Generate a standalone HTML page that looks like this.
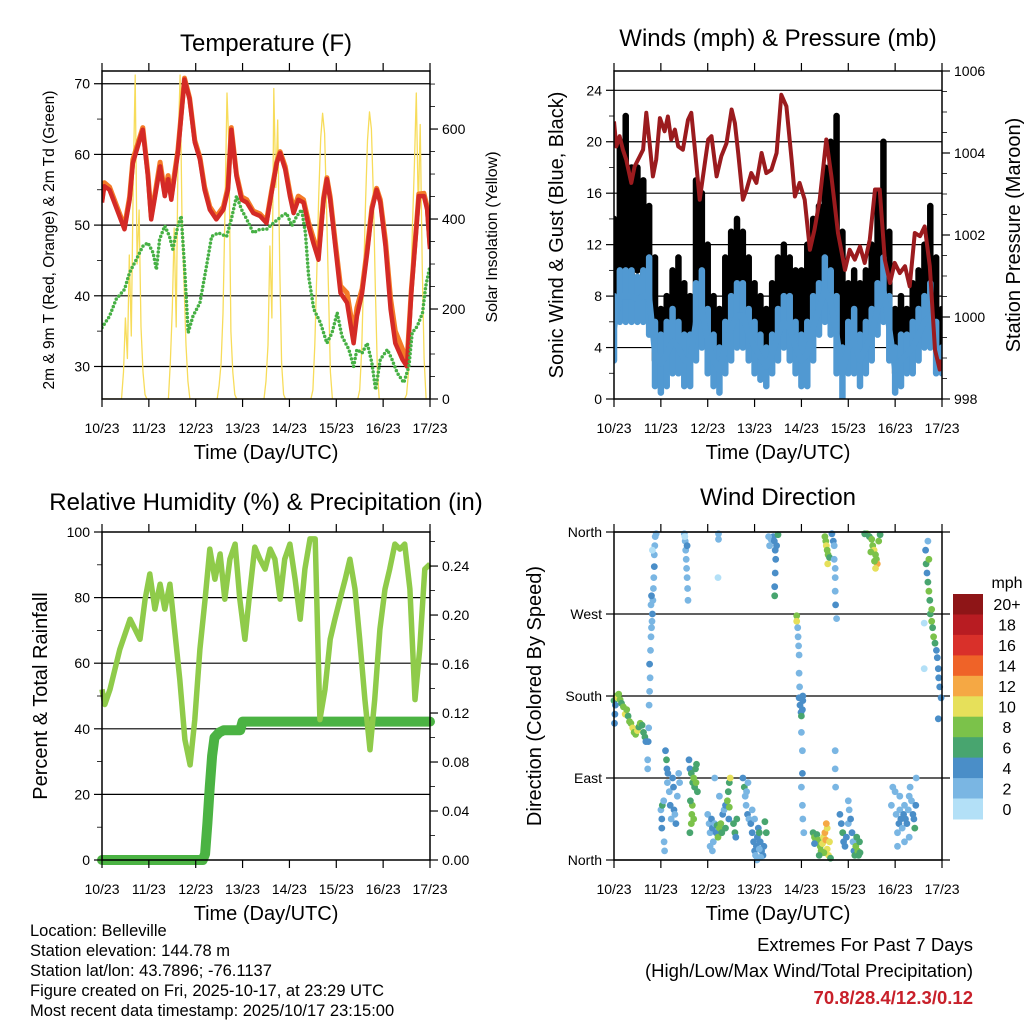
<!DOCTYPE html>
<html><head><meta charset="utf-8"><title>Belleville station meteogram</title>
<style>
html,body{margin:0;padding:0;background:#fff;}
svg{display:block;font-family:"Liberation Sans",Arial,sans-serif;}
</style></head>
<body>
<svg id="chart" width="1024" height="1024" viewBox="0 0 1024 1024" xmlns="http://www.w3.org/2000/svg"></svg>
<script>
// ---------- DATA ----------
const dayLabels = ["10/23","11/23","12/23","13/23","14/23","15/23","16/23","17/23"];
// Temperature 2m (red)
const tDays = [0,0.05,0.16,0.48,0.59,0.66,0.87,0.98,1.05,1.12,1.24,1.34,1.41,1.48,1.55,1.62,1.76,1.87,1.98,2.09,2.19,2.3,2.44,2.59,2.69,2.76,2.87,2.98,3.09,3.23,3.37,3.51,3.62,3.73,3.8,3.91,4.01,4.09,4.19,4.3,4.41,4.51,4.62,4.73,4.8,4.87,4.98,5.09,5.23,5.37,5.44,5.55,5.66,5.76,5.86,5.94,6.05,6.16,6.26,6.41,6.51,6.6,6.69,6.76,6.87,6.94,7.0];
const t2m = [53.2,55.5,55.0,49.4,53.6,58.8,63.5,56.9,50.8,53.6,58.3,54.1,56.5,53.6,56.9,60.2,70.6,67.8,61.7,59.3,55.0,52.2,50.8,52.2,55.0,63.5,56.9,53.6,53.2,51.7,51.3,50.3,54.6,58.8,60.2,57.9,54.1,51.7,53.6,53.2,49.9,47.5,45.1,53.6,56.5,53.6,47.0,40.4,39.0,33.3,37.1,40.4,46.1,52.2,55.0,53.2,47.0,38.1,33.3,31.0,30.0,40.4,48.0,54.1,54.1,52.2,46.6];
const t9m = [53.6,56.0,55.4,49.8,54.0,59.3,63.8,57.3,51.2,54.0,58.9,54.5,57.0,54.0,57.4,60.6,70.8,68.0,62.0,59.6,55.4,52.6,51.2,52.6,55.4,63.8,57.2,54.0,53.6,52.0,51.6,50.6,54.9,59.0,60.4,58.3,54.6,52.2,54.1,53.6,50.4,48.2,46.0,53.9,56.7,54.0,47.6,41.4,40.4,34.8,38.3,41.0,46.7,52.5,55.2,53.6,47.8,39.6,35.0,32.5,30.8,40.8,48.3,54.4,54.5,52.6,47.0];
// Dewpoint (green)
const tdDays = [0,0.16,0.3,0.48,0.59,0.73,0.87,0.98,1.09,1.16,1.23,1.34,1.44,1.51,1.62,1.69,1.76,1.84,1.94,2.09,2.23,2.34,2.48,2.66,2.76,2.87,2.98,3.09,3.23,3.37,3.51,3.66,3.84,3.94,4.05,4.16,4.26,4.34,4.41,4.52,4.66,4.8,4.91,5.02,5.12,5.27,5.37,5.44,5.55,5.66,5.76,5.84,5.94,6.09,6.19,6.3,6.44,6.55,6.62,6.73,6.84,6.91,7.0];
const td2m = [35.5,37.1,39.5,40.9,43.3,45.1,47.0,47.5,46.1,43.7,48.0,49.9,48.4,46.6,49.9,51.3,44.2,34.8,37.1,39.0,44.2,48.4,48.9,48.4,50.8,54.1,52.2,50.8,48.9,49.4,49.4,50.3,51.3,51.7,49.9,51.3,52.2,48.9,42.8,38.1,36.2,33.3,34.8,37.6,34.3,32.4,30.0,32.4,31.9,33.3,30.5,26.7,31.0,32.4,31.0,29.1,27.7,30.0,34.8,35.7,37.6,41.4,44.2];
// Solar insolation, hourly (W/m2), days 0..6
const solarD0 = [0,0,0,0,0,0,0,0,0,0,0,60,180,90,320,140,480,720,300,420,160,60,10,0];
const solarD1 = [0,0,0,0,0,0,0,0,0,0,0,80,200,380,160,560,720,400,260,120,40,0,0,0];
const solarD2 = [0,0,0,0,0,0,0,0,0,0,0,0,30,80,190,420,680,560,150,60,10,0,0,0];
const solarD3 = [0,0,0,0,0,0,0,0,0,0,0,0,40,120,340,180,690,470,620,300,80,10,0,0];
const solarD4 = [0,0,0,0,0,0,0,0,0,0,0,0,20,120,280,450,580,635,590,430,240,60,0,0];
const solarD5 = [0,0,0,0,0,0,0,0,0,0,0,0,20,110,270,440,575,638,600,450,250,70,0,0];
const solarD6 = [0,0,0,0,0,0,0,0,0,0,0,0,10,60,200,380,520,680,420,610,300,90,0,0];
// Wind (mph) per 3 h
const windDays = [0,0.125,0.25,0.375,0.5,0.625,0.75,0.875,1,1.125,1.25,1.375,1.5,1.625,1.75,1.875,2,2.125,2.25,2.375,2.5,2.625,2.75,2.875,3,3.125,3.25,3.375,3.5,3.625,3.75,3.875,4,4.125,4.25,4.375,4.5,4.625,4.75,4.875,5,5.125,5.25,5.375,5.5,5.625,5.75,5.875,6,6.125,6.25,6.375,6.5,6.625,6.75,6.875,7];
const gustMin = [6,9,10,9,10,9,8,3, 3,4,5,5,4,4,6,7, 4,3,3,5,7,8,7,5, 4,3,3,4,6,7,6,5, 4,5,6,8,9,10,8,4, 4,5,4,5,6,9,10,6, 2,3,3,4,5,6,7,4,3];
const gustMax = [14,20,22,18,18,17,15,11, 7,8,10,11,9,8,17,16, 12,8,7,11,13,14,13,11, 9,8,7,9,11,12,11,10, 10,12,14,15,18,20,22,13, 9,10,9,10,12,16,20,13, 7,8,7,9,10,12,15,11,7];
const windMin = [3,6,6,6,6,6,5,1, 0.5,1,2,2,1,1,3,4, 2,1,0.5,2,3,4,4,3, 2,1.5,1,2,3,4,3,2, 1,1,3,5,6,5,2,0, 2,2,1,2,3,5,6,3, 0.5,1,2,2,3,4,4,2,2];
const windMax = [8,10,10,10,9.5,10,11,6, 5,6,7,6,5,5,9,10, 7,5,4,6,8,9,9,7, 6,5,4,5,7,8,8,6, 5,6,8,9,11,10,8,4, 6,7,5,6,7,9,11,8, 4,5,5,6,7,8,9,6,4];
// Pressure (mb)
const pDays = [0,0.05,0.12,0.19,0.26,0.37,0.44,0.55,0.62,0.69,0.76,0.83,0.9,0.98,1.08,1.15,1.22,1.3,1.37,1.47,1.58,1.65,1.72,1.83,1.94,2.01,2.08,2.19,2.29,2.4,2.51,2.58,2.65,2.75,2.83,2.93,3.04,3.15,3.25,3.36,3.47,3.57,3.68,3.79,3.86,3.96,4.07,4.18,4.28,4.39,4.53,4.64,4.78,4.93,5.03,5.14,5.25,5.35,5.46,5.57,5.67,5.78,5.89,5.99,6.1,6.21,6.31,6.42,6.53,6.63,6.74,6.85,6.95,6.99];
const pres = [1004.77,1004.16,1004.41,1004.08,1003.84,1003.27,1003.67,1003.92,1004.08,1004.98,1004.24,1003.43,1003.84,1004.85,1004.53,1004.89,1004.33,1004.57,1004.16,1004.08,1004.81,1004.98,1004.16,1002.86,1003.76,1004.33,1004.41,1003.43,1003.92,1004.24,1005.06,1004.73,1004.0,1002.86,1003.11,1003.51,1003.27,1004.0,1003.51,1003.59,1004.0,1005.42,1005.14,1003.84,1002.94,1003.27,1002.86,1001.64,1002.13,1002.86,1004.33,1003.43,1002.05,1001.15,1001.64,1001.40,1001.72,1001.32,1001.89,1003.11,1003.11,1001.40,1000.83,1001.32,1001.07,1001.24,1000.75,1002.05,1001.97,1002.21,1001.24,999.20,998.72,998.96];
// Relative humidity (%)
const rhDays = [0,0.06,0.17,0.38,0.6,0.81,0.92,1.02,1.13,1.24,1.34,1.45,1.56,1.66,1.77,1.88,1.98,2.09,2.2,2.3,2.41,2.52,2.62,2.73,2.84,2.94,3.05,3.16,3.26,3.37,3.48,3.59,3.69,3.8,3.9,4.01,4.12,4.23,4.33,4.44,4.55,4.65,4.76,4.87,4.97,5.08,5.19,5.29,5.4,5.5,5.61,5.72,5.82,5.93,6.04,6.14,6.25,6.36,6.46,6.57,6.68,6.78,6.89,7.0];
const rh = [52,47.4,52,64.2,73.4,67.3,79.5,87.2,76.5,84.1,76.5,84.1,68.8,55,36.7,29,42.8,64.2,79.5,94.8,85.6,93.3,79.5,91.7,96.3,79.5,67.3,82.6,95.4,91.7,88.7,94.8,91.7,79.5,91.7,96.3,85.6,73.4,88.7,97.9,97.9,42.8,52,67.3,73.4,79.5,85.6,91.7,82.6,67.3,48.9,33.6,48.9,70.3,82.6,88.7,96.3,94.8,96.3,82.6,48.9,64.2,88.7,90.2];
// Precipitation total (in)
const prDays = [0,2.15,2.2,2.25,2.3,2.35,2.4,2.5,2.6,2.95,3.0,7.0];
const precip = [0,0,0.005,0.03,0.06,0.085,0.1,0.104,0.106,0.106,0.113,0.113];
// Wind direction scatter: day, direction (deg), speed (mph)
const dirDays = [0,0.03,0.05,0.08,0.1,0.13,0.16,0.2,0.24,0.27,0.3,0.33,0.36,0.4,0.43,0.46,0.5,0.53,0.56,0.6,0.63,0.66,0.68,0.02,0.01,
0.72,0.72,0.73,0.74,0.75,0.76,0.77,0.76,0.78,0.79,0.8,0.81,0.82,0.83,0.84,0.85,0.86,0.86,0.87,0.88,0.9,0.82,0.79,0.8,
1.0,1.02,1.02,1.03,1.06,1.1,1.12,1.13,1.15,1.14,1.18,1.2,1.22,1.25,1.27,1.28,1.3,1.32,1.07,1.08,1.35,1.38,1.4,
1.5,1.52,1.53,1.54,1.55,1.56,1.57,1.58,1.56,1.51,
1.6,1.62,1.65,1.68,1.7,1.72,1.67,1.66,1.7,1.65,1.63,1.74,1.76,1.78,1.75,1.62,
2.0,2.03,2.05,2.08,2.1,2.12,2.15,2.18,2.2,2.22,2.25,2.28,2.3,2.32,2.35,2.38,2.42,2.44,2.46,2.48,2.46,2.45,2.38,2.1,2.05,2.15,2.25,2.23,2.23,2.22,
2.55,2.58,2.6,2.62,2.75,2.78,2.8,2.82,2.85,2.88,2.83,2.86,
2.92,2.95,2.98,3.0,3.02,3.04,3.06,3.08,3.1,3.12,3.15,3.18,3.2,3.22,3.25,2.95,3.0,3.05,3.13,3.1,
3.35,3.4,3.42,3.44,3.45,3.44,3.43,3.43,3.3,3.32,3.5,3.47,
3.9,3.9,3.92,3.93,3.94,3.95,3.95,3.96,3.95,3.97,3.99,4.0,4.02,4.03,4.0,4.02,4.02,4.0,4.02,4.03,4.05,4.03,
4.25,4.28,4.3,4.33,4.36,4.4,4.42,4.45,4.47,4.5,4.52,4.55,4.58,4.6,4.55,4.53,4.48,4.38,4.62,4.28,
4.5,4.52,4.53,4.55,4.57,4.56,4.6,4.65,4.68,4.7,4.72,4.72,4.73,4.75,4.72,4.7,4.72,4.72,4.73,
4.82,4.85,4.88,4.9,4.93,4.96,5.0,5.02,5.05,5.08,5.1,5.12,5.14,5.16,5.18,5.2,5.22,5.25,5.24,5.0,
5.4,5.45,5.5,5.52,5.55,5.58,5.6,5.62,5.58,5.56,5.65,5.68,5.35,5.48,
5.92,5.95,6.0,6.02,6.05,6.08,6.1,6.12,6.15,6.18,6.2,6.22,6.25,6.28,6.3,6.32,6.35,6.38,6.4,6.42,6.44,6.45,6.05,6.2,6.3,6.1,
6.65,6.66,6.68,6.7,6.72,6.74,6.75,6.78,6.8,6.82,6.85,6.88,6.9,6.92,6.93,6.95,6.98,6.72,6.7,6.78,6.92,6.62,6.62];
const dirDeg = [175,170,180,178,182,176,172,168,160,165,158,152,150,145,140,138,142,146,150,148,140,135,130,160,150,
100,110,130,145,170,185,200,215,230,245,255,262,270,285,298,310,322,335,345,355,358,340,280,290,
55,45,35,60,65,120,110,100,95,85,75,60,45,90,80,55,50,40,20,10,70,95,85,
358,350,340,330,320,310,298,285,345,355,
110,100,95,85,90,80,60,50,45,40,65,100,105,75,85,30,
50,40,30,45,35,20,40,30,38,25,35,40,30,50,55,60,65,75,85,90,58,45,35,10,15,90,70,358,352,310,
40,30,25,45,90,80,70,60,50,45,75,85,
40,30,20,10,5,15,25,35,30,20,10,5,15,42,30,55,45,0,3,12,
352,355,350,340,330,315,300,290,355,345,357,345,
268,262,255,245,235,225,205,190,178,170,162,158,165,175,140,120,95,80,60,45,30,180,
30,25,20,28,22,15,10,18,25,30,22,12,5,20,35,40,8,5,2,18,
355,350,345,340,335,325,332,358,350,330,310,295,280,265,320,345,120,100,80,
50,40,30,20,15,25,40,55,45,30,20,10,5,15,25,10,5,8,20,65,
358,355,352,345,340,335,330,325,320,328,350,357,358,338,
60,80,75,50,30,40,55,45,35,50,60,45,40,55,70,80,65,50,45,35,60,90,15,20,25,70,
340,325,315,305,295,285,270,262,255,245,238,230,222,210,200,190,178,330,350,275,155,260,210];
const dirSpd = [6,4,8,10,9,8,7,8,10,8,7,9,8,10,8,9,10,7,8,6,7,6,5,4,4,
3,2,4,2,3,2,3,4,2,3,2,3,4,2,3,2,4,3,2,3,2,1,3,4,
3,4,4,6,2,4,6,4,4,3,3,4,3,4,4,4,3,4,2,2,3,3,3,
3,2,2,3,2,3,2,2,4,1,
4,4,7,7,8,6,8,9,8,8,7,6,7,6,8,6,
2,2,3,4,4,2,3,4,6,8,8,8,6,4,2,4,8,7,6,10,8,4,6,2,2,2,2,2,2,1,
6,6,4,6,4,6,2,2,4,2,2,2,
4,4,4,4,3,4,4,4,6,4,4,4,4,6,6,2,3,2,3,2,
2,4,4,4,4,4,4,6,2,2,6,4,
8,10,2,2,2,2,2,2,4,4,4,6,4,4,2,2,4,2,2,2,2,4,
6,8,8,6,8,8,8,10,10,12,12,10,10,10,10,12,8,6,6,4,
8,8,10,8,8,10,6,4,4,3,3,3,4,3,3,2,2,2,2,
4,4,6,4,4,4,2,2,4,4,2,4,6,8,6,8,6,6,6,2,
8,6,8,8,10,8,8,12,10,8,8,6,6,8,
2,2,2,2,2,4,3,4,2,4,2,4,4,3,2,3,2,4,4,6,4,2,2,2,2,2,
4,6,4,6,8,6,6,8,6,8,6,4,4,4,4,4,4,8,2,8,4,1,1];
const cbLabels = ["20+","18","16","14","12","10","8","6","4","2","0"];
const cbColors = ["#8e1517","#b81c22","#d9302a","#ef6328","#f5a844","#e6e05a","#7bc24a","#48a56f","#4a8ec8","#7ab6e3","#b3e0f7"];

// ---------- DRAWING ----------
const NS = "http://www.w3.org/2000/svg";
const svg = document.getElementById("chart");
function mk(tag, attrs, parent){
  const e = document.createElementNS(NS, tag);
  for (const k in attrs) e.setAttribute(k, attrs[k]);
  (parent||svg).appendChild(e);
  return e;
}
function txt(s, x, y, size, anchor, parent, extra){
  const e = mk("text", Object.assign({x:x, y:y, "font-size":size, "text-anchor":anchor||"middle", fill:"#000"}, extra||{}), parent);
  e.textContent = s;
  return e;
}
const W = 328, H = 328;
function xsc(x0){ return d => x0 + d * W / 7; }
function ysc(y0, lo, hi){ return v => y0 + H - (v - lo) / (hi - lo) * H; }

function frame(g, x0, y0){
  const f = mk("rect", {x:x0, y:y0, width:W, height:H, fill:"none", stroke:"#000", "stroke-width":1.5}, g);
  
  
}
function xAxis(g, x0, y0){
  const xs = xsc(x0);
  for (let i = 0; i < dayLabels.length; i++){
    const x = xs(i);
    mk("line", {x1:x, x2:x, y1:y0+H, y2:y0+H+8, stroke:"#000", "stroke-width":1.2}, g);
    mk("line", {x1:x, x2:x, y1:y0-8, y2:y0, stroke:"#000", "stroke-width":1.2}, g);
    const t = txt(dayLabels[i], x, y0+H+34, 14, "middle", g);
    
    
  }
  const tt = txt("Time (Day/UTC)", x0+W/2, y0+H+60, 20, "middle", g);
  
  
}
function yTicks(g, x0, y0, ys, vals, labels, side, major, minorVals){
  for (let i = 0; i < vals.length; i++){
    const y = ys(vals[i]);
    if (y < y0-0.5 || y > y0+H+0.5) continue;
    const xx = side === "left" ? x0 : x0 + W;
    const dx = side === "left" ? -8 : 8;
    mk("line", {x1:xx, x2:xx+dx, y1:y, y2:y, stroke:"#000", "stroke-width":1.2}, g);
    const t = txt(labels[i], side === "left" ? x0-12 : x0+W+12, y+5, 14, side === "left" ? "end" : "start", g);
    
    
  }
  (minorVals||[]).forEach(v => {
    const y = ys(v);
    if (y < y0 || y > y0+H) return;
    const xx = side === "left" ? x0 : x0 + W;
    const dx = side === "left" ? -5 : 5;
    mk("line", {x1:xx, x2:xx+dx, y1:y, y2:y, stroke:"#000", "stroke-width":0.8}, g);
  });
}
function grid(g, x0, ys, vals, ext){
  vals.forEach(v => {
    const y = ys(v);
    const l = mk("line", {x1:x0, x2:x0+W+(ext||0), y1:y, y2:y, stroke:"#000", "stroke-width":1.2}, g);
    
    
  });
}
function pathFrom(xsArr, ysArr, xs, ys){
  let d = "";
  for (let i = 0; i < xsArr.length; i++) d += (i ? "L" : "M") + xs(xsArr[i]).toFixed(1) + "," + ys(ysArr[i]).toFixed(1);
  return d;
}
function rotLabel(s, x, y, size, g){
  return txt(s, x, y, size, "middle", g, {transform:"rotate(-90 " + x + " " + y + ")"});
}

// ===== Panel 1: Temperature =====
(function(){
  const x0 = 102, y0 = 71;
  const g = mk("g", {});  
  const xs = xsc(x0), ys = ysc(y0, 25.4, 71.8), ysR = ysc(y0, 0, 729);
  const clip = mk("clipPath", {id:"c1"}, g); mk("rect", {x:x0, y:y0, width:W, height:H}, clip);
  const pg = mk("g", {"clip-path":"url(#c1)"}, g);
  grid(pg, x0, ys, [30,40,50,60,70]);
  const solarDays = [solarD0, solarD1, solarD2, solarD3, solarD4, solarD5, solarD6];
  const sd = [], sv = [];
  solarDays.forEach((arr, di) => arr.forEach((v, h) => { sd.push(di + h/24); sv.push(v); }));
  sd.push(7); sv.push(0);
  const sp = mk("path", {d:pathFrom(sd, sv, xs, ysR), fill:"none", stroke:"#f7dc5a", "stroke-width":1.3, "stroke-linejoin":"round"}, pg);
   
  const o = mk("path", {d:pathFrom(tDays, t9m, xs, ys), fill:"none", stroke:"#f47b27", "stroke-width":5, "stroke-linejoin":"round"}, pg);
   
  const r = mk("path", {d:pathFrom(tDays, t2m, xs, ys), fill:"none", stroke:"#d42a26", "stroke-width":4.5, "stroke-linejoin":"round"}, pg);
   
  const gr = mk("path", {d:pathFrom(tdDays, td2m, xs, ys), fill:"none", stroke:"#46b044", "stroke-width":3.5, "stroke-dasharray":"0 4", "stroke-linecap":"round"}, pg);
   
  frame(g, x0, y0);
  xAxis(g, x0, y0);
  yTicks(g, x0, y0, ys, [30,40,50,60,70], ["30","40","50","60","70"], "left", true, [35,45,55,65]);
  yTicks(g, x0, y0, ysR, [0,200,400,600], ["0","200","400","600"], "right", true, [50,100,150,250,300,350,450,500,550,650,700]);
  const ti = txt("Temperature (F)", x0+W/2, 51, 24, "middle", g);  
  const yl = rotLabel("2m & 9m T (Red, Orange) & 2m Td (Green)", 54, 240, 15.5, g);  
  const yr = rotLabel("Solar Insolation (Yellow)", 497, 237, 16, g);  
})();

// ===== Panel 2: Winds & Pressure =====
(function(){
  const x0 = 614, y0 = 71;
  const g = mk("g", {});  
  const xs = xsc(x0), ys = ysc(y0, 0, 25.5), ysR = ysc(y0, 998, 1006);
  const clip = mk("clipPath", {id:"c2"}, g); mk("rect", {x:x0, y:y0, width:W, height:H}, clip);
  const pg = mk("g", {"clip-path":"url(#c2)"}, g);
  grid(pg, x0, ys, [4,8,12,16,20,24]);
  for (let i = 0; i < windDays.length; i++){
    const x = xs(windDays[i]);
    const b = mk("line", {x1:x, x2:x, y1:ys(gustMin[i]), y2:ys(gustMax[i]), stroke:"#000", "stroke-width":6.5, "stroke-linecap":"round"}, pg);
    
    
  }
  for (let i = 0; i < windDays.length; i++){
    const x = xs(windDays[i]);
    const b = mk("line", {x1:x, x2:x, y1:ys(windMin[i]), y2:ys(windMax[i]), stroke:"#5199d2", "stroke-width":6.5, "stroke-linecap":"round"}, pg);
    
    
  }
  const mids = windMin.map((v, i) => (v + windMax[i]) / 2);
  const bl = mk("path", {d:pathFrom(windDays, mids, xs, ys), fill:"none", stroke:"#5199d2", "stroke-width":6, "stroke-linejoin":"round"}, pg);
   
  const p = mk("path", {d:pathFrom(pDays, pres, xs, ysR), fill:"none", stroke:"#9b1b1e", "stroke-width":4, "stroke-linejoin":"round"}, pg);
   
  frame(g, x0, y0);
  xAxis(g, x0, y0);
  yTicks(g, x0, y0, ys, [0,4,8,12,16,20,24], ["0","4","8","12","16","20","24"], "left", true, [2,6,10,14,18,22]);
  yTicks(g, x0, y0, ysR, [998,1000,1002,1004,1006], ["998","1000","1002","1004","1006"], "right", true, [998.5,999,999.5,1000.5,1001,1001.5,1002.5,1003,1003.5,1004.5,1005,1005.5]);
  const ti = txt("Winds (mph) & Pressure (mb)", x0+W/2, 46, 24, "middle", g);  
  const yl = rotLabel("Sonic Wind & Gust (Blue, Black)", 563, 235, 20, g);  
  const yr = rotLabel("Station Pressure (Maroon)", 1020, 235, 20, g);  
})();

// ===== Panel 3: RH & precip =====
(function(){
  const x0 = 102, y0 = 532;
  const g = mk("g", {});  
  const xs = xsc(x0), ys = ysc(y0, 0, 100), ysR = ysc(y0, 0, 0.2678);
  grid(g, x0, ys, [20,40,60,80]);
  const clip = mk("clipPath", {id:"c3"}, g); mk("rect", {x:x0-6, y:y0, width:W+12, height:H+6}, clip);
  const pg = mk("g", {"clip-path":"url(#c3)"}, g);
  const pr = mk("path", {d:pathFrom(prDays, precip, xs, ysR), fill:"none", stroke:"#4bb343", "stroke-width":10, "stroke-linejoin":"round", "stroke-linecap":"round"}, pg);
   
  const rl = mk("path", {d:pathFrom(rhDays, rh, xs, ys), fill:"none", stroke:"#8fcb4a", "stroke-width":5.5, "stroke-linejoin":"round"}, g);
   
  frame(g, x0, y0);
  xAxis(g, x0, y0);
  yTicks(g, x0, y0, ys, [0,20,40,60,80,100], ["0","20","40","60","80","100"], "left", true, [10,30,50,70,90]);
  yTicks(g, x0, y0, ysR, [0,0.04,0.08,0.12,0.16,0.20,0.24], ["0.00","0.04","0.08","0.12","0.16","0.20","0.24"], "right", true, [0.02,0.06,0.10,0.14,0.18,0.22,0.26]);
  const ti = txt("Relative Humidity (%) & Precipitation (in)", 266, 510, 24, "middle", g);  
  const yl = rotLabel("Percent & Total Rainfall", 47, 696, 20, g);  
})();

// ===== Panel 4: Wind direction =====
(function(){
  const x0 = 614, y0 = 532;
  const g = mk("g", {});  
  const xs = xsc(x0), ys = ysc(y0, 0, 360);
  grid(g, x0, ys, [0,90,180,270,360], 8);
  function col(s){ const idx = Math.min(10, Math.floor(s/2)); return cbColors[10 - idx]; }
  for (let i = 0; i < dirDays.length; i++){
    const c = mk("circle", {cx:xs(dirDays[i]).toFixed(1), cy:ys(dirDeg[i]).toFixed(1), r:3.4, fill:col(dirSpd[i])}, g);
    
    
  }
  frame(g, x0, y0);
  xAxis(g, x0, y0);
  const dl = ["North","East","South","West","North"];
  yTicks(g, x0, y0, ys, [0,90,180,270,360], dl, "left", true, []);
  const ti = txt("Wind Direction", x0+W/2, 505, 24, "middle", g);  
  const yl = rotLabel("Direction (Colored By Speed)", 541, 696, 20, g);  
  const lg = mk("g", {}, g);  
  const cbY0 = 594, bh = (819 - 594) / cbLabels.length;
  for (let i = 0; i < cbLabels.length; i++){
    const r = mk("rect", {x:953, y:(cbY0 + i*bh).toFixed(1), width:30, height:(bh+0.5).toFixed(1), fill:cbColors[i]}, lg);
    
    
    const t = txt(cbLabels[i], 1007, cbY0 + i*bh + bh/2 + 6, 16, "middle", lg);
    
    
  }
  const u = txt("mph", 1007, 588, 16, "middle", lg);  
})();
</script>
<div style="position:absolute;left:0;top:0;width:1024px;height:1024px;pointer-events:none;font-family:'Liberation Sans',Arial,sans-serif;">
  <div style="position:absolute;left:30px;top:921px;font-size:16.5px;line-height:20px;color:#000;">
    <div>Location: Belleville</div>
    <div>Station elevation: 144.78 m</div>
    <div>Station lat/lon: 43.7896; -76.1137</div>
    <div>Figure created on Fri, 2025-10-17, at 23:29 UTC</div>
    <div>Most recent data timestamp: 2025/10/17 23:15:00</div>
  </div>
  <div style="position:absolute;right:51px;top:932px;text-align:right;color:#000;font-size:18.5px;line-height:26px;">
    <div>Extremes For Past 7 Days</div>
    <div>(High/Low/Max Wind/Total Precipitation)</div>
    <div style="color:#c8202a;font-weight:bold;margin-top:1px;">70.8/28.4/12.3/0.12</div>
  </div>
</div>
</body></html>
